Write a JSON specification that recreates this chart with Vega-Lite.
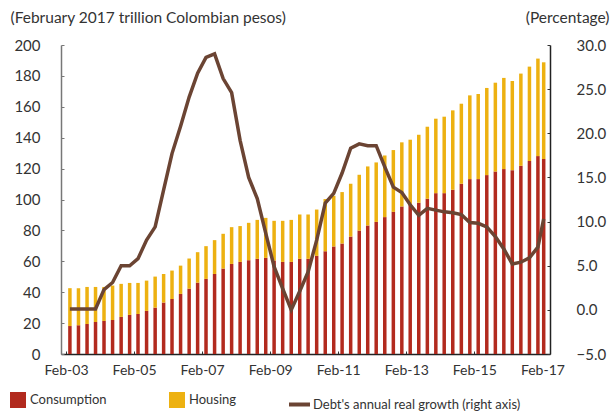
{
  "$schema": "https://vega.github.io/schema/vega-lite/v6.json",
  "width": 489,
  "height": 309,
  "autosize": {"type": "none"},
  "padding": {"left": 61, "top": 45, "right": 63, "bottom": 61},
  "background": "white",
  "config": {
    "font": "Lato",
    "view": {"stroke": null},
    "axis": {
      "labelFont": "Lato", "labelFontSize": 15, "labelColor": "#333",
      "titleFont": "Lato", "titleFontSize": 15.5, "titleFontWeight": "normal", "titleColor": "#333",
      "grid": false, "tickColor": "#333", "domainColor": "#333", "tickSize": -3
    },
    "legend": {"labelFont": "Lato", "labelFontSize": 13, "labelColor": "#333", "padding": 0, "labelLimit": 0}
  },
  "data": {
    "values": [
      {"date": "2003-03-15", "Consumption": 18.1, "Housing": 24.5, "growth": 0.1},
      {"date": "2003-06-15", "Consumption": 18.6, "Housing": 24.0, "growth": 0.1},
      {"date": "2003-09-15", "Consumption": 19.4, "Housing": 24.0, "growth": 0.1},
      {"date": "2003-12-15", "Consumption": 20.7, "Housing": 22.7, "growth": 0.1},
      {"date": "2004-03-15", "Consumption": 21.4, "Housing": 22.0, "growth": 2.3},
      {"date": "2004-06-15", "Consumption": 22.0, "Housing": 22.3, "growth": 3.1},
      {"date": "2004-09-15", "Consumption": 24.0, "Housing": 21.4, "growth": 5.0},
      {"date": "2004-12-15", "Consumption": 25.3, "Housing": 20.7, "growth": 5.0},
      {"date": "2005-03-15", "Consumption": 25.9, "Housing": 20.1, "growth": 5.8},
      {"date": "2005-06-15", "Consumption": 27.9, "Housing": 19.6, "growth": 7.9},
      {"date": "2005-09-15", "Consumption": 30.0, "Housing": 20.1, "growth": 9.4},
      {"date": "2005-12-15", "Consumption": 33.3, "Housing": 18.5, "growth": 13.6},
      {"date": "2006-03-15", "Consumption": 35.6, "Housing": 18.4, "growth": 17.7},
      {"date": "2006-06-15", "Consumption": 38.9, "Housing": 18.3, "growth": 20.8},
      {"date": "2006-09-15", "Consumption": 42.3, "Housing": 19.5, "growth": 24.1},
      {"date": "2006-12-15", "Consumption": 46.2, "Housing": 19.7, "growth": 26.8},
      {"date": "2007-03-15", "Consumption": 48.6, "Housing": 21.2, "growth": 28.6},
      {"date": "2007-06-15", "Consumption": 51.8, "Housing": 21.9, "growth": 29.0},
      {"date": "2007-09-15", "Consumption": 55.3, "Housing": 22.5, "growth": 26.2},
      {"date": "2007-12-15", "Consumption": 58.3, "Housing": 23.8, "growth": 24.6},
      {"date": "2008-03-15", "Consumption": 59.6, "Housing": 23.2, "growth": 19.2},
      {"date": "2008-06-15", "Consumption": 60.7, "Housing": 24.2, "growth": 15.0},
      {"date": "2008-09-15", "Consumption": 61.6, "Housing": 25.2, "growth": 12.6},
      {"date": "2008-12-15", "Consumption": 62.2, "Housing": 25.9, "growth": 8.7},
      {"date": "2009-03-15", "Consumption": 60.5, "Housing": 25.7, "growth": 4.9},
      {"date": "2009-06-15", "Consumption": 59.6, "Housing": 26.6, "growth": 2.4},
      {"date": "2009-09-15", "Consumption": 59.6, "Housing": 27.2, "growth": 0.0},
      {"date": "2009-12-15", "Consumption": 61.6, "Housing": 28.7, "growth": 2.1},
      {"date": "2010-03-15", "Consumption": 61.6, "Housing": 28.7, "growth": 4.3},
      {"date": "2010-06-15", "Consumption": 63.5, "Housing": 30.0, "growth": 7.9},
      {"date": "2010-09-15", "Consumption": 66.5, "Housing": 33.8, "growth": 12.1},
      {"date": "2010-12-15", "Consumption": 69.6, "Housing": 32.8, "growth": 13.2},
      {"date": "2011-03-15", "Consumption": 71.5, "Housing": 33.3, "growth": 15.5},
      {"date": "2011-06-15", "Consumption": 76.0, "Housing": 34.2, "growth": 18.3},
      {"date": "2011-09-15", "Consumption": 79.9, "Housing": 36.1, "growth": 18.8},
      {"date": "2011-12-15", "Consumption": 83.2, "Housing": 38.2, "growth": 18.6},
      {"date": "2012-03-15", "Consumption": 85.5, "Housing": 38.5, "growth": 18.6},
      {"date": "2012-06-15", "Consumption": 88.6, "Housing": 39.9, "growth": 16.2},
      {"date": "2012-09-15", "Consumption": 92.0, "Housing": 40.0, "growth": 13.9},
      {"date": "2012-12-15", "Consumption": 95.5, "Housing": 41.5, "growth": 13.3},
      {"date": "2013-03-15", "Consumption": 97.2, "Housing": 41.5, "growth": 11.9},
      {"date": "2013-06-15", "Consumption": 97.9, "Housing": 44.0, "growth": 10.7},
      {"date": "2013-09-15", "Consumption": 100.5, "Housing": 46.6, "growth": 11.5},
      {"date": "2013-12-15", "Consumption": 104.1, "Housing": 48.2, "growth": 11.3},
      {"date": "2014-03-15", "Consumption": 104.1, "Housing": 49.5, "growth": 11.1},
      {"date": "2014-06-15", "Consumption": 106.3, "Housing": 51.4, "growth": 11.0},
      {"date": "2014-09-15", "Consumption": 110.2, "Housing": 51.8, "growth": 10.8},
      {"date": "2014-12-15", "Consumption": 113.2, "Housing": 54.2, "growth": 9.9},
      {"date": "2015-03-15", "Consumption": 113.2, "Housing": 55.1, "growth": 9.8},
      {"date": "2015-06-15", "Consumption": 115.8, "Housing": 56.4, "growth": 9.4},
      {"date": "2015-09-15", "Consumption": 118.1, "Housing": 57.5, "growth": 8.3},
      {"date": "2015-12-15", "Consumption": 119.7, "Housing": 59.0, "growth": 6.9},
      {"date": "2016-03-15", "Consumption": 119.0, "Housing": 57.7, "growth": 5.2},
      {"date": "2016-06-15", "Consumption": 121.8, "Housing": 59.7, "growth": 5.4},
      {"date": "2016-09-15", "Consumption": 124.9, "Housing": 61.1, "growth": 5.9},
      {"date": "2016-12-15", "Consumption": 128.1, "Housing": 63.1, "growth": 7.1},
      {"date": "2017-02-15", "Consumption": 126.2, "Housing": 62.6, "growth": 10.3}
    ]
  },
  "encoding": {
    "x": {
      "field": "date", "type": "temporal",
      "scale": {"type": "utc", "domain": [{"year": 2003, "month": 2, "date": 1, "utc": true}, {"year": 2017, "month": 3, "date": 1, "utc": true}]},
      "axis": {
        "title": null,
        "values": [
          {"year": 2003, "month": 2, "date": 1, "utc": true},
          {"year": 2005, "month": 2, "date": 1, "utc": true},
          {"year": 2007, "month": 2, "date": 1, "utc": true},
          {"year": 2009, "month": 2, "date": 1, "utc": true},
          {"year": 2011, "month": 2, "date": 1, "utc": true},
          {"year": 2013, "month": 2, "date": 1, "utc": true},
          {"year": 2015, "month": 2, "date": 1, "utc": true},
          {"year": 2017, "month": 2, "date": 1, "utc": true}
        ],
        "labelExpr": "utcFormat(datum.value, '%b-%y')",
        "labelFontSize": 14,
        "labelFlush": false,
        "labelPadding": 12,
        "domainColor": "#222",
        "domainWidth": 1.5
      }
    }
  },
  "layer": [
    {
      "transform": [{"fold": ["Consumption", "Housing"], "as": ["series", "value"]}],
      "mark": {"type": "bar", "size": 3.5},
      "encoding": {
        "y": {
          "field": "value", "type": "quantitative", "stack": "zero",
          "scale": {"domain": [0, 200], "nice": false},
          "axis": {
            "values": [0, 20, 40, 60, 80, 100, 120, 140, 160, 180, 200],
            "title": "(February 2017 trillion Colombian pesos)",
            "titleAngle": 0, "titleAlign": "left", "titleBaseline": "alphabetic",
            "titleX": -51, "titleY": -23,
            "labelPadding": 24,
            "domainColor": "#777", "domainWidth": 1.5, "tickColor": "#777"
          }
        },
        "color": {
          "field": "series", "type": "nominal",
          "scale": {"domain": ["Consumption", "Housing"], "range": ["#B22A1E", "#EDB111"]},
          "legend": {
            "title": null, "orient": "none", "legendX": -51, "legendY": 347,
            "direction": "horizontal", "symbolType": "square", "symbolSize": 256,
            "symbolStrokeWidth": 0, "labelOffset": 4, "columnPadding": 62
          }
        },
        "order": {"field": "series", "sort": "ascending"}
      }
    },
    {
      "mark": {"type": "line", "strokeWidth": 3.5},
      "encoding": {
        "y": {
          "field": "growth", "type": "quantitative",
          "scale": {"domain": [-5, 30], "nice": false},
          "axis": {
            "orient": "right",
            "values": [-5, 0, 5, 10, 15, 20, 25, 30],
            "format": ".1f",
            "title": "(Percentage)",
            "titleAngle": 0, "titleAlign": "right", "titleBaseline": "alphabetic",
            "titleX": 59, "titleY": -23,
            "labelPadding": 29,
            "domainColor": "#222", "domainWidth": 1.5
          }
        },
        "stroke": {
          "datum": "Debt's annual real growth (right axis)", "type": "nominal",
          "scale": {"range": ["#6B4433"]},
          "legend": {
            "title": null, "orient": "none", "legendX": 226, "legendY": 347,
            "symbolType": "stroke", "symbolSize": 441, "symbolStrokeWidth": 4,
            "labelOffset": 1, "labelLimit": 0
          }
        }
      }
    }
  ],
  "resolve": {"scale": {"y": "independent"}}
}
